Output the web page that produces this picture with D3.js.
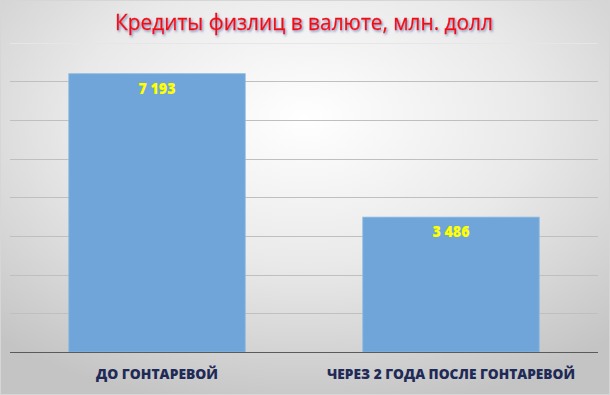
<!DOCTYPE html>
<html>
<head>
<meta charset="utf-8">
<script src="https://cdn.jsdelivr.net/npm/d3@7"></script>
<style>
  html, body { margin: 0; padding: 0; background: #fff; }
  svg { display: block; }
</style>
</head>
<body>
<div class="chart"></div>
<script>
// данные
var categories = ["ДО ГОНТАРЕВОЙ", "ЧЕРЕЗ 2 ГОДА ПОСЛЕ ГОНТАРЕВОЙ"];
var values = [7193, 3486];
var valueLabels = ["7 193", "3 486"];
var yTicks = [0, 1000, 2000, 3000, 4000, 5000, 6000, 7000, 8000];
var title = "Кредиты физлиц в валюте, млн. долл";

var w = 610, h = 395;
var svg = d3.select(".chart").append("svg")
    .attr("width", w)
    .attr("height", h);

var defs = svg.append("defs");
var grad = defs.append("radialGradient")
    .attr("id", "bg")
    .attr("cx", "50%").attr("cy", "30%").attr("r", "75%");
grad.append("stop").attr("offset", "0%").attr("stop-color", "#ffffff");
grad.append("stop").attr("offset", "50%").attr("stop-color", "#e9e9e9");
grad.append("stop").attr("offset", "100%").attr("stop-color", "#c4c4c4");

var shadow = defs.append("filter").attr("id", "shadow")
    .attr("x", "-5%").attr("y", "-20%").attr("width", "110%").attr("height", "150%");
shadow.append("feDropShadow")
    .attr("dx", 1.2).attr("dy", 1.5).attr("stdDeviation", 0.8)
    .attr("flood-color", "#5a6fa8").attr("flood-opacity", 0.75);

svg.append("rect")
    .attr("x", 0).attr("y", 0).attr("width", w).attr("height", h)
    .attr("fill", "url(#bg)");
svg.append("rect")
    .attr("x", 0.5).attr("y", 0.5).attr("width", w - 1).attr("height", h - 1)
    .attr("fill", "none").attr("stroke", "#d6d6d6");

// масштабы
var x = d3.scaleBand()
    .domain(categories)
    .range([10, 598])
    .paddingInner(0.4)
    .paddingOuter(0.2);

var y = d3.scaleLinear()
    .domain([0, 8000])
    .range([352, 42.5]);

// сетка
svg.append("g")
    .selectAll("line")
    .data(yTicks.slice(1))
    .enter()
    .append("line")
    .attr("x1", 10).attr("x2", 598)
    .attr("y1", function(d) { return Math.round(y(d)) + 0.5; })
    .attr("y2", function(d) { return Math.round(y(d)) + 0.5; })
    .attr("stroke", function(d, i) { return i === yTicks.length - 2 ? "#e6e6e6" : "#bfbfbf"; })
    .attr("stroke-width", 1);

// столбцы
svg.append("g")
    .selectAll("rect")
    .data(values)
    .enter()
    .append("rect")
    .attr("x", function(d, i) { return x(categories[i]); })
    .attr("y", function(d) { return y(d); })
    .attr("width", x.bandwidth())
    .attr("height", function(d) { return y(0) - y(d); })
    .attr("fill", "#6fa5d8")
    .attr("stroke", "#8cb8e2")
    .attr("stroke-width", 0.8);

// ось
svg.append("line")
    .attr("x1", 10).attr("x2", 598)
    .attr("y1", 352.5).attr("y2", 352.5)
    .attr("stroke", "#5a5a5a")
    .attr("stroke-width", 1.2);

// подписи значений
svg.append("g")
    .selectAll("text")
    .data(values)
    .enter()
    .append("text")
    .text(function(d, i) { return valueLabels[i]; })
    .attr("text-anchor", "middle")
    .attr("x", function(d, i) { return x(categories[i]) + x.bandwidth() / 2; })
    .attr("y", function(d) { return y(d) + 20; })
    .attr("font-family", "'Open Sans', sans-serif")
    .attr("font-weight", "800")
    .attr("font-size", "15px")
    .attr("fill", "#ffff00")
    .attr("textLength", 37)
    .attr("lengthAdjust", "spacingAndGlyphs");

// подписи категорий
svg.append("g")
    .selectAll("text")
    .data(categories)
    .enter()
    .append("text")
    .text(function(d) { return d; })
    .attr("text-anchor", "middle")
    .attr("x", function(d) { return x(d) + x.bandwidth() / 2; })
    .attr("y", 379)
    .attr("font-family", "'Open Sans', sans-serif")
    .attr("font-weight", "800")
    .attr("font-size", "14.5px")
    .attr("fill", "#1f2a56")
    .attr("textLength", function(d, i) { return i === 0 ? 122 : 248; })
    .attr("lengthAdjust", "spacingAndGlyphs");

// заголовок
svg.append("text")
    .text(title)
    .attr("text-anchor", "middle")
    .attr("x", 304)
    .attr("y", 30)
    .attr("font-family", "'Open Sans', sans-serif")
    .attr("font-size", "22px")
    .attr("fill", "#f01010")
    .attr("stroke", "#f01010")
    .attr("stroke-width", 0.35)
    .attr("textLength", 378)
    .attr("lengthAdjust", "spacingAndGlyphs")
    .attr("filter", "url(#shadow)");
</script>
</body>
</html>
